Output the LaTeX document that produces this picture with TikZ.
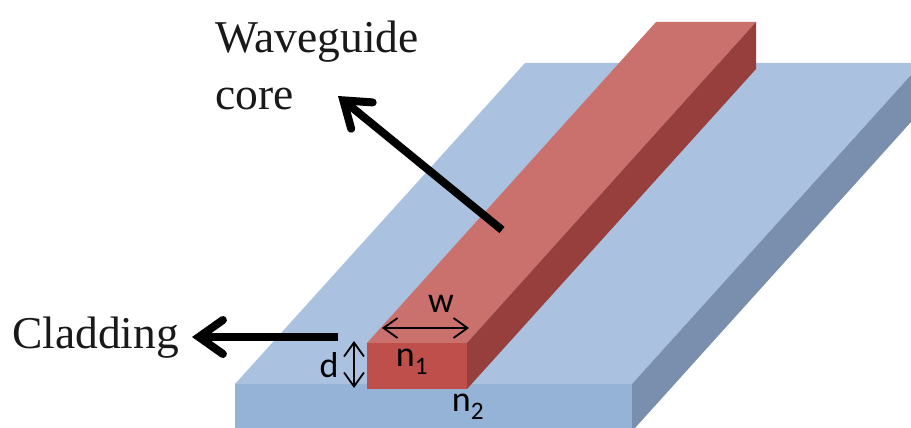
\documentclass[tikz,border=0pt]{standalone}
\usepackage{fontspec}
\setmainfont{Liberation Serif}
\newfontfamily\labelfont{Carlito}
\usetikzlibrary{arrows.meta,positioning}
\definecolor{slabtop}{HTML}{ABC1E0}
\definecolor{slabfront}{HTML}{95B3D7}
\definecolor{slabside}{HTML}{7A8FAD}
\definecolor{coretop}{HTML}{CA706D}
\definecolor{corefront}{HTML}{BE4F4B}
\definecolor{coreside}{HTML}{963F3C}

\begin{document}
\begin{tikzpicture}[x=1pt, y=-1pt,
             callout/.style={-{Straight Barb[length=24pt, width=34pt, line width=8pt, line cap=round]}, line width=8pt, black},
             size/.style={{Straight Barb[length=14pt, width=20pt]}-{Straight Barb[length=14pt, width=20pt]}, line width=1.8pt, black},
             caption/.style={font=\fontsize{45.5}{58}\selectfont, text=black!90, inner sep=0pt, align=left},
             symb/.style={font=\labelfont\fontsize{36}{40}\selectfont, text=black, inner sep=0pt}]
\useasboundingbox (0,0) rectangle (911,428);

%% cladding slab
\fill[slabtop]   (235,384) -- (525,63) -- (911,63) -- (911,75) -- (632,384) -- cycle;
\fill[slabfront] (235,384) -- (632,384) -- (632,428) -- (235,428) -- cycle;
\fill[slabside]  (632,384) -- (911,75) -- (911,122) -- (635,428) -- (632,428) -- cycle;

%% waveguide core
\fill[coretop]   (367,343) -- (656,22) -- (756,22) -- (467,343) -- cycle;
\fill[corefront] (367,343) -- (467,343) -- (467,389) -- (367,389) -- cycle;
\fill[coreside]  (467,343) -- (756,22) -- (756,69) -- (467,389) -- cycle;

%% labels
\node[caption, anchor=base west] (core)     at (215,110) {Waveguide\\core};
\node[caption, anchor=base west] (cladding) at (12,348)  {Cladding};
\node[symb] (w)  at (441,304) {w};
\node[symb] (d)  at (329,365) {d};
\node[symb] (n1) at (412,362) {n\textsubscript{1}};
\node[symb] (n2) at (468,407) {n\textsubscript{2}};

%% callout arrows
\coordinate (coreTail) at (502,230);
\coordinate (coreTip)  at (338,96);
\coordinate (cladTail) at (338,337);
\coordinate (cladTip)  at (192,337);
\draw[callout] (coreTail) -- (coreTip);
\draw[callout] (cladTail) -- (cladTip);

%% width and height of the core
\coordinate (wL) at (382,328);
\coordinate (wR) at (469,328);
\coordinate (dT) at (354,341);
\coordinate (dB) at (354,388);
\draw[size] (wL) -- (wR);
\draw[size] (dT) -- (dB);
\end{tikzpicture}
\end{document}
